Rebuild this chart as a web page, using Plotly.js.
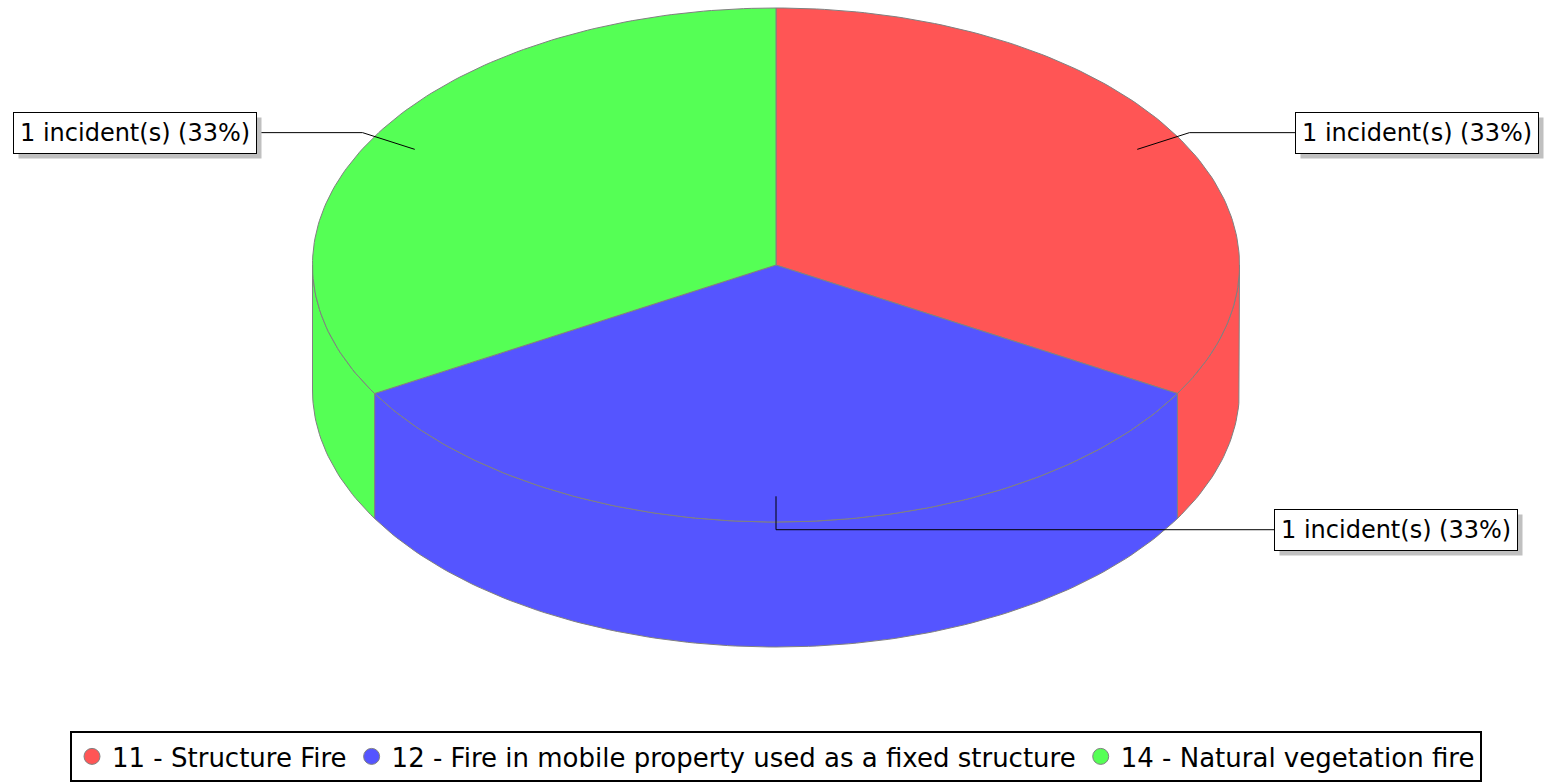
<!DOCTYPE html>
<html>
<head>
<meta charset="utf-8">
<script src="https://cdn.plot.ly/plotly-3.0.1.min.js"></script>
<style>
  html, body { margin: 0; padding: 0; background: #fff; }
  #chart { width: 1545px; height: 782px; }
</style>
</head>
<body>
<div id="chart"></div>
<script>
// data
const categories = ['11 - Structure Fire', '12 - Fire in mobile property used as a fixed structure', '14 - Natural vegetation fire']
const incidents = [1, 1, 1]
const colors = ['#FF5555', '#5555FF', '#55FF55']

// pie geometry (pixel space, y grows downward)
const W = 1545, H = 782
const cx = 776, cy = 265
const rx = 463.5, ry = 257
const depth = 125
const outline = '#808080'
const font = 'DejaVu Sans, sans-serif'

const total = incidents.reduce((a, b) => a + b, 0)

// slice angles, degrees, start at top going clockwise
const slices = []
let cum = 0
incidents.forEach((v, i) => {
    const start = 90 - cum / total * 360
    cum += v
    const end = 90 - cum / total * 360
    slices.push({start, end, i, v})
})

const pt = (deg, k = 1, dz = 0) => {
    const r = deg * Math.PI / 180
    return [cx + rx * k * Math.cos(r), cy - ry * k * Math.sin(r) + dz]
}

const arc = (a, b, dz = 0) => {
    const out = []
    const n = Math.max(2, Math.ceil(Math.abs(b - a)))
    for (let j = 0; j <= n; j++) out.push(pt(a + (b - a) * j / n, 1, dz))
    return out
}

const data = []

// side walls: only the front half (180..360) is visible
slices.forEach(s => {
    const lo = s.end, hi = s.start
    ;[[180, 360], [-180, 0], [540, 720]].forEach(([f0, f1]) => {
        const a = Math.max(lo, f0), b = Math.min(hi, f1)
        if (b - a <= 0) return
        const top = arc(a, b)
        const bot = arc(b, a, depth)
        const poly = top.concat(bot)
        poly.push(top[0])
        data.push({
            x: poly.map(p => p[0]), y: poly.map(p => p[1]),
            type: 'scatter', mode: 'lines', fill: 'toself',
            fillcolor: colors[s.i], line: {color: outline, width: 1},
            showlegend: false, hoverinfo: 'skip'
        })
    })
})

// top faces
slices.forEach(s => {
    const poly = [[cx, cy]].concat(arc(s.start, s.end))
    poly.push([cx, cy])
    data.push({
        x: poly.map(p => p[0]), y: poly.map(p => p[1]),
        type: 'scatter', mode: 'lines', fill: 'toself',
        fillcolor: colors[s.i], line: {color: outline, width: 1},
        showlegend: false, hoverinfo: 'skip'
    })
})

// labels with leader lines
const annotations = []
const labA = 526, labB = 825
slices.forEach(s => {
    const mid = (s.start + s.end) / 2
    const right = Math.cos(mid * Math.PI / 180) > -1e-9
    const anchor = pt(mid, 0.9)
    const elbow = pt(mid, 1.03)
    const dy = elbow[1] - cy
    const off = labA * Math.sqrt(Math.max(0, 1 - (dy / labB) ** 2))
    const lx = right ? cx + off : cx - off
    data.push({
        x: [anchor[0], elbow[0], lx], y: [anchor[1], elbow[1], elbow[1]],
        type: 'scatter', mode: 'lines', line: {color: '#000', width: 1},
        showlegend: false, hoverinfo: 'skip'
    })
    const pct = Math.round(s.v / total * 100)
    annotations.push({
        x: lx, y: elbow[1], xref: 'x', yref: 'y', showarrow: false,
        xanchor: right ? 'left' : 'right', yanchor: 'middle',
        text: `${s.v} incident(s) (${pct}%)`, borderpad: 6, borderwidth: 1,
        bgcolor: '#fff', bordercolor: '#000',
        font: {family: font, size: 24, color: '#000'}
    })
})

// legend entries
categories.forEach((c, i) => {
    data.push({
        x: [null], y: [null], type: 'scatter', mode: 'markers', name: c,
        marker: {color: colors[i], size: 18, line: {color: outline, width: 1}},
        hoverinfo: 'skip'
    })
})

const layout = {
    width: W, height: H,
    margin: {l: 0, r: 0, t: 0, b: 0, autoexpand: false},
    paper_bgcolor: '#fff', plot_bgcolor: '#fff',
    hovermode: false,
    xaxis: {range: [0, W], visible: false, fixedrange: true},
    yaxis: {range: [H, 0], visible: false, fixedrange: true},
    showlegend: true,
    legend: {
        orientation: 'h', x: cx / W, xanchor: 'center', y: (H - 731) / H, yanchor: 'top',
        bgcolor: '#fff', bordercolor: '#000', borderwidth: 2,
        font: {family: font, size: 26, color: '#000'},
        itemwidth: 30
    },
    annotations
}

Plotly.newPlot('chart', data, layout, {displayModeBar: false, staticPlot: true}).then(gd => {
    // drop shadows behind the label boxes
    const root = gd.getBoundingClientRect()
    const shapes = []
    gd.querySelectorAll('.annotation rect.bg').forEach(r => {
        const b = r.getBoundingClientRect()
        const x0 = b.left - root.left + 5, y0 = b.top - root.top + 5
        shapes.push({
            type: 'rect', xref: 'x', yref: 'y', layer: 'above',
            x0, x1: x0 + b.width, y0, y1: y0 + b.height,
            fillcolor: '#c0c0c0', line: {width: 0}
        })
    })
    return Plotly.relayout(gd, {shapes})
})
</script>
</body>
</html>
